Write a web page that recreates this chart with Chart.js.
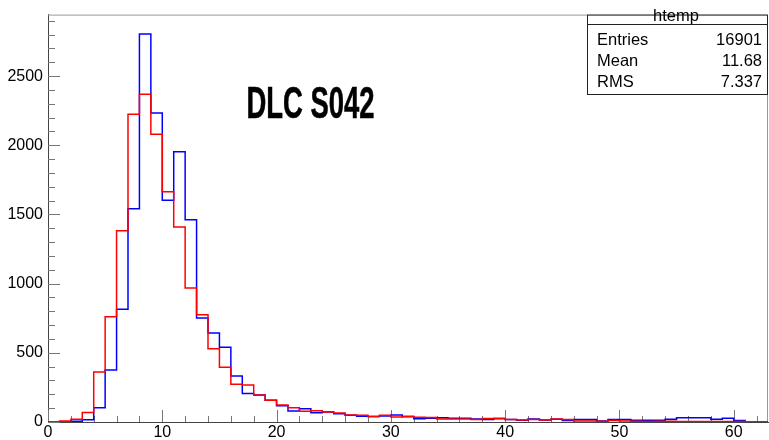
<!DOCTYPE html>
<html>
<head>
<meta charset="utf-8">
<script src="https://cdn.jsdelivr.net/npm/chart.js@4.4.1/dist/chart.umd.min.js"></script>
<style>
html,body{margin:0;padding:0;background:#fff;}
#c{display:block;}
</style>
</head>
<body>
<canvas id="c" width="769" height="440"></canvas>
<script>
// Bin low edges (bin width 1)
const binLow = [0,1,2,3,4,5,6,7,8,9,10,11,12,13,14,15,16,17,18,19,20,21,22,23,24,25,26,27,28,29,30,31,32,33,34,35,36,37,38,39,40,41,42,43,44,45,46,47,48,49,50,51,52,53,54,55,56,57,58,59,60,61,62];
const binEnd = 63;
// Blue histogram (htemp)
const blueCounts = [0,0,5,16,103,376,815,1541,2805,2233,1603,1953,1462,752,643,541,333,206,195,157,118,80,96,66,72,60,48,41,39,44,50,38,23,28,30,27,27,22,18,24,18,13,22,14,20,11,18,18,8,18,18,13,13,13,20,30,30,30,20,27,11,2,0];
// Red histogram
const redCounts = [0,8,20,68,362,760,1383,2225,2370,2080,1665,1410,968,775,530,395,272,268,195,158,122,103,77,82,72,65,51,48,39,48,37,41,34,32,22,22,22,18,25,27,18,15,18,15,22,18,8,8,6,10,8,6,4,6,6,4,4,4,4,4,4,1,0];
// Axis ticks
const xMajorTicks = [0,10,20,30,40,50,60];
const yMajorTicks = [0,500,1000,1500,2000,2500];
// Texts
const titleText = "DLC S042";
const statsTitle = "htemp";
const statsRows = [["Entries","16901"],["Mean","11.68"],["RMS","7.337"]];

function histPoints(counts){
  const pts = binLow.map((x,i)=>({x:x, y:counts[i]}));
  pts.push({x:binEnd, y:0});
  return pts;
}

const FONT = '"Liberation Sans", Arial, Helvetica, sans-serif';

const framePlugin = {
  id:'rootFrame',
  beforeDatasetsDraw(chart){
    const {ctx, chartArea:a, scales:{x,y}} = chart;
    ctx.save();
    ctx.strokeStyle = '#999';
    ctx.lineWidth = 1;
    ctx.beginPath();
    ctx.moveTo(a.left, a.top+0.5);
    ctx.lineTo(a.right-0.5, a.top+0.5);
    ctx.lineTo(a.right-0.5, a.bottom);
    ctx.stroke();
    ctx.strokeStyle = '#777';
    ctx.beginPath();
    for(let v=0; v<=binEnd; v+=2){
      const px = Math.round(x.getPixelForValue(v))+0.5;
      const len = (v%10===0)?12:6;
      ctx.moveTo(px, a.bottom);
      ctx.lineTo(px, a.bottom-len);
    }
    for(let v=0; v<=y.max; v+=100){
      const py = Math.round(y.getPixelForValue(v))+0.5;
      const len = (v%500===0)?12:7;
      ctx.moveTo(a.left, py);
      ctx.lineTo(a.left+len, py);
    }
    ctx.stroke();
    ctx.restore();
  },
  afterDraw(chart){
    const {ctx, chartArea:a} = chart;
    ctx.save();
    ctx.fillStyle = '#000';
    ctx.strokeStyle = '#000';
    ctx.lineWidth = 0.6;
    ctx.font = 'bold 45px "Liberation Sans Narrow", "Liberation Sans", sans-serif';
    ctx.textBaseline = 'alphabetic';
    ctx.textAlign = 'left';
    const w = ctx.measureText(titleText).width;
    const sx = 128/w;
    ctx.translate(246.5, 117.5);
    ctx.scale(sx, 1);
    ctx.fillText(titleText, 0, 0);
    ctx.strokeText(titleText, 0, 0);
    ctx.restore();

    ctx.save();
    const bx0 = 587.5, bx1 = a.right-0.5, by0 = a.top+0.5, by1 = 94.5, sep = 24.5;
    ctx.fillStyle = '#fff';
    ctx.fillRect(bx0, by0, bx1-bx0, by1-by0);
    ctx.strokeStyle = '#222';
    ctx.lineWidth = 1;
    ctx.strokeRect(bx0, by0, bx1-bx0, by1-by0);
    ctx.beginPath();
    ctx.moveTo(bx0, sep); ctx.lineTo(bx1, sep);
    ctx.stroke();
    ctx.fillStyle = '#000';
    ctx.font = '16.5px ' + FONT;
    ctx.textBaseline = 'middle';
    ctx.textAlign = 'center';
    ctx.fillText(statsTitle, 676, 16);
    statsRows.forEach((r,i)=>{
      const yy = 40.5 + i*21;
      ctx.textAlign = 'left';
      ctx.fillText(r[0], 597, yy);
      ctx.textAlign = 'right';
      ctx.fillText(r[1], 762, yy);
    });
    ctx.restore();
  }
};

new Chart(document.getElementById('c'), {
  type:'line',
  data:{
    datasets:[
      {label:'red', data:histPoints(redCounts), borderColor:'#ff0000', borderWidth:1.5, stepped:'before', pointRadius:0, fill:false, tension:0},
      {label:'htemp', data:histPoints(blueCounts), borderColor:'#0000ff', borderWidth:1.5, stepped:'before', pointRadius:0, fill:false, tension:0}
    ]
  },
  options:{
    responsive:false,
    animation:false,
    events:[],
    layout:{padding:{top:7,right:1,left:0,bottom:0}},
    plugins:{legend:{display:false}, tooltip:{enabled:false}},
    scales:{
      x:{
        type:'linear', min:0, max:binEnd,
        afterBuildTicks(s){ s.ticks = xMajorTicks.map(v=>({value:v})); },
        ticks:{includeBounds:false, autoSkip:false, maxRotation:0, color:'#000', padding:1, font:{size:16, family:FONT}, callback:v=>String(v)},
        grid:{display:false, drawTicks:false},
        border:{display:true, color:'#444', width:1},
        afterFit(s){ s.height = 18; }
      },
      y:{
        type:'linear', min:0, max:2945,
        afterBuildTicks(s){ s.ticks = yMajorTicks.map(v=>({value:v})); },
        ticks:{includeBounds:false, autoSkip:false, color:'#000', padding:5, font:{size:16, family:FONT}, callback:v=>String(v)},
        grid:{display:false, drawTicks:false},
        border:{display:true, color:'#444', width:1},
        afterFit(s){ s.width = 48; }
      }
    }
  },
  plugins:[framePlugin]
});
</script>
</body>
</html>
